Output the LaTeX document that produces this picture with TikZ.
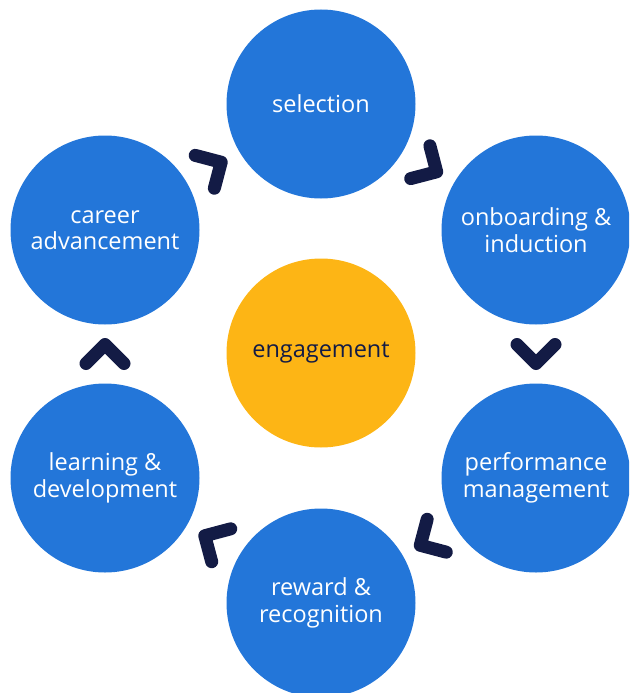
\documentclass[tikz,border=0pt]{standalone}
\usepackage{fontspec}
\setmainfont{Open Sans}
\usetikzlibrary{calc}
\definecolor{cblue}{HTML}{2376D9}
\definecolor{cgold}{HTML}{FDB515}
\definecolor{cnavy}{HTML}{131B45}
\newcommand\mychev[2]{%
  \coordinate (m) at ($(#1)!0.5!(#2)$);
  \coordinate (e) at ($(m)!-9.5pt!(#2)$);
  \draw[chev] ($(e)!19pt!90:(#2)$) -- ($(m)!9.5pt!(#2)$) -- ($(e)!19pt!-90:(#2)$);}
\begin{document}
\begin{tikzpicture}[x=1pt,y=-1pt,
  stage/.style={circle, fill=cblue, minimum size=189pt, inner sep=0pt, text=white,
    font=\fontsize{23.5}{26.5}\selectfont, align=center},
  core/.style={stage, fill=cgold, text=cnavy},
  chev/.style={draw=cnavy, line width=13pt, line cap=round, line join=round}]
\useasboundingbox (0,0) rectangle (629,693);
\clip (0,0) rectangle (629,693);
\node[stage] (sel) at (321,104) {selection};
\node[stage] (onb) at (536,230) {onboarding \&\\induction};
\node[stage] (perf) at (536,478) {performance\\management};
\node[stage] (rew) at (321,603) {reward \&\\recognition};
\node[stage] (learn) at (105,478) {learning \&\\development};
\node[stage] (car) at (105,230) {career\\advancement};
\node[core] (eng) at (321,353) {engagement};
\mychev{sel}{onb}
\mychev{onb}{perf}
\mychev{perf}{rew}
\mychev{rew}{learn}
\mychev{learn}{car}
\mychev{car}{sel}
\end{tikzpicture}
\end{document}
